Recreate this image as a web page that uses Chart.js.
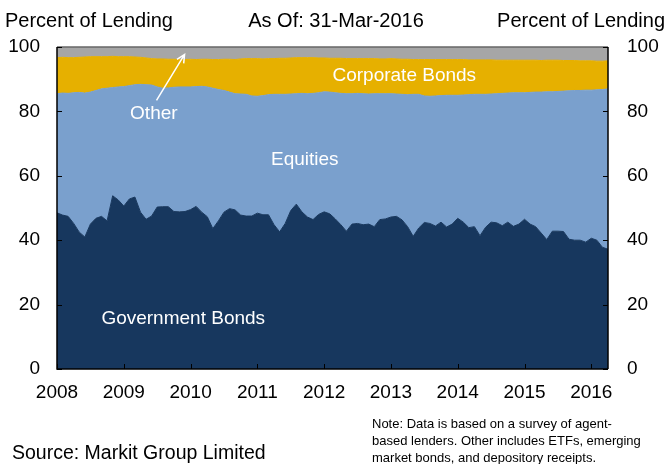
<!DOCTYPE html>
<html>
<head>
<meta charset="utf-8">
<script src="https://cdn.jsdelivr.net/npm/chart.js@4.4.1/dist/chart.umd.min.js"></script>
<style>
    html, body { margin: 0; padding: 0; background: #ffffff; }
    #wrap { width: 666px; height: 464px; position: relative; }
</style>
</head>
<body>
<div id="wrap"><canvas id="lending"></canvas></div>
<script>
// monthly observations, Jan 2008 .. Apr 2016 (last point = 31-Mar-2016)
const startYear = 2008;
const monthCount = 100;

const yearTicks = [2008, 2009, 2010, 2011, 2012, 2013, 2014, 2015, 2016];
const pctTicks = [0, 20, 40, 60, 80, 100];

// share of lending (%)
const govBonds = [
    48.5, 47.8, 47.4, 45.2, 42.5, 41.0, 45.0, 46.8, 47.4, 46.0, 53.8, 52.5,
    50.6, 52.8, 53.4, 48.7, 46.5, 47.5, 50.3, 50.4, 50.4, 48.9, 48.8, 48.9,
    49.5, 50.5, 48.7, 47.3, 43.6, 46.0, 48.7, 49.8, 49.4, 47.8, 47.5, 47.5,
    48.4, 47.9, 47.9, 44.8, 42.6, 45.2, 49.2, 51.2, 48.8, 47.2, 46.4, 48.0,
    48.8, 48.2, 46.6, 44.8, 42.8, 45.0, 45.2, 44.8, 45.0, 44.2, 46.4, 46.6,
    47.2, 47.4, 46.3, 44.2, 41.2, 43.8, 45.5, 45.2, 44.4, 45.6, 44.1, 45.0,
    46.8, 45.6, 43.9, 44.2, 41.4, 44.0, 45.6, 45.4, 44.5, 45.6, 44.3, 45.0,
    46.5, 45.0, 44.2, 42.2, 40.2, 42.8, 42.8, 42.7, 40.3, 40.0, 40.0, 39.4,
    40.6, 40.0, 37.8, 37.2
];
const equities = [
    37.0, 37.9, 38.2, 40.6, 43.4, 44.7, 41.0, 39.7, 39.6, 41.2, 33.6, 35.1,
    37.1, 35.2, 34.9, 39.7, 41.8, 40.7, 37.3, 36.8, 36.9, 38.6, 38.8, 38.7,
    38.1, 37.2, 39.1, 40.3, 43.6, 40.8, 37.8, 36.2, 36.1, 37.6, 37.8, 37.3,
    36.3, 37.0, 37.3, 40.5, 42.7, 40.1, 36.2, 34.3, 36.8, 38.3, 39.2, 37.8,
    37.3, 37.8, 39.2, 40.8, 42.7, 40.5, 40.4, 40.7, 40.4, 41.3, 39.1, 38.9,
    38.3, 38.0, 39.0, 41.0, 44.1, 41.5, 39.3, 39.5, 40.4, 39.3, 40.9, 40.0,
    38.2, 39.5, 41.3, 41.1, 43.9, 41.3, 39.8, 40.1, 41.1, 40.1, 41.5, 40.8,
    39.3, 40.9, 41.8, 43.8, 45.9, 43.3, 43.4, 43.6, 46.1, 46.5, 46.5, 47.2,
    46.0, 46.7, 49.0, 49.8
];
const corpBonds = [
    11.2, 11.1, 11.1, 10.9, 10.9, 11.2, 11.0, 10.5, 10.0, 9.8, 9.7, 9.4,
    9.3, 9.0, 8.6, 8.4, 8.3, 8.2, 8.7, 9.1, 8.9, 8.7, 8.5, 8.5,
    8.6, 8.4, 8.4, 8.6, 8.9, 9.3, 9.7, 10.2, 10.6, 10.9, 11.1, 11.6,
    11.7, 11.4, 11.2, 11.1, 11.2, 11.2, 11.2, 11.2, 11.1, 11.2, 11.1, 10.8,
    10.5, 10.5, 10.7, 10.9, 10.9, 10.9, 10.8, 10.9, 11.0, 10.9, 10.8, 10.8,
    10.9, 10.9, 10.9, 11.0, 10.8, 10.8, 11.3, 11.4, 11.3, 11.2, 11.1, 11.1,
    11.1, 11.0, 10.8, 10.7, 10.7, 10.7, 10.6, 10.4, 10.3, 10.2, 10.1, 10.1,
    10.1, 10.0, 9.9, 9.8, 9.8, 9.8, 9.7, 9.5, 9.4, 9.3, 9.2, 9.1,
    9.1, 8.9, 8.8, 8.7
];
const other = [
    3.3, 3.2, 3.3, 3.3, 3.2, 3.1, 3.0, 3.0, 3.0, 3.0, 2.9, 3.0,
    3.0, 3.0, 3.1, 3.2, 3.4, 3.6, 3.7, 3.7, 3.8, 3.8, 3.9, 3.9,
    3.8, 3.9, 3.8, 3.8, 3.9, 3.9, 3.8, 3.8, 3.9, 3.7, 3.6, 3.6,
    3.6, 3.7, 3.6, 3.6, 3.5, 3.5, 3.4, 3.3, 3.3, 3.3, 3.3, 3.4,
    3.4, 3.5, 3.5, 3.5, 3.6, 3.6, 3.6, 3.6, 3.6, 3.6, 3.7, 3.7,
    3.6, 3.7, 3.8, 3.8, 3.9, 3.9, 3.9, 3.9, 3.9, 3.9, 3.9, 3.9,
    3.9, 3.9, 4.0, 4.0, 4.0, 4.0, 4.0, 4.1, 4.1, 4.1, 4.1, 4.1,
    4.1, 4.1, 4.1, 4.2, 4.1, 4.1, 4.1, 4.2, 4.2, 4.2, 4.3, 4.3,
    4.3, 4.4, 4.4, 4.3
];

const months = [];
for (let k = 0; k < monthCount; k++) months.push(startYear + k / 12);

const FONT = '"Liberation Sans", Arial, sans-serif';

function series(label, values, color, fill) {
    return {
        label: label,
        data: values.map((v, i) => ({ x: months[i], y: v })),
        backgroundColor: color,
        borderColor: color,
        borderWidth: 1,
        pointRadius: 0,
        tension: 0,
        fill: fill
    };
}

// frame, inward tick marks and all the loose text
const decorations = {
    id: 'decorations',
    afterDatasetsDraw(chart) {
        const ctx = chart.ctx;
        const area = chart.chartArea;
        const x = chart.scales.x;
        const y = chart.scales.y;

        ctx.save();
        ctx.lineWidth = 1.5;
        ctx.strokeStyle = '#666666';
        ctx.beginPath();
        ctx.moveTo(area.left, area.top);
        ctx.lineTo(area.right, area.top);
        ctx.stroke();

        ctx.strokeStyle = '#000000';
        ctx.beginPath();
        ctx.moveTo(area.left, area.top);
        ctx.lineTo(area.left, area.bottom);
        ctx.lineTo(area.right, area.bottom);
        ctx.moveTo(area.right, area.top);
        ctx.lineTo(area.right, area.bottom);
        ctx.stroke();

        ctx.lineWidth = 1;
        ctx.beginPath();
        pctTicks.forEach(v => {
            const py = Math.round(y.getPixelForValue(v)) + 0.5;
            ctx.moveTo(area.left, py);
            ctx.lineTo(area.left + 5, py);
            ctx.moveTo(area.right, py);
            ctx.lineTo(area.right - 5, py);
        });
        yearTicks.forEach(v => {
            const px = Math.round(x.getPixelForValue(v)) + 0.5;
            ctx.moveTo(px, area.bottom);
            ctx.lineTo(px, area.bottom - 5);
        });
        ctx.stroke();

        // labels inside the areas
        ctx.fillStyle = '#ffffff';
        ctx.font = '19px ' + FONT;
        ctx.textAlign = 'center';
        ctx.textBaseline = 'middle';
        ctx.fillText('Corporate Bonds', x.getPixelForValue(2013.2), y.getPixelForValue(91.1));
        ctx.fillText('Equities', x.getPixelForValue(2011.71), y.getPixelForValue(65.0));
        ctx.fillText('Government Bonds', x.getPixelForValue(2009.89), y.getPixelForValue(15.6));
        ctx.fillText('Other', x.getPixelForValue(2009.45), y.getPixelForValue(79.2));

        // arrow from "Other" up to the grey band
        const tx = x.getPixelForValue(2009.49), ty = y.getPixelForValue(83.4);
        const hx = x.getPixelForValue(2009.91), hy = y.getPixelForValue(97.7);
        const ang = Math.atan2(hy - ty, hx - tx);
        ctx.strokeStyle = '#ffffff';
        ctx.lineWidth = 1.5;
        ctx.beginPath();
        ctx.moveTo(tx, ty);
        ctx.lineTo(hx, hy);
        ctx.moveTo(hx - 9 * Math.cos(ang - 0.45), hy - 9 * Math.sin(ang - 0.45));
        ctx.lineTo(hx, hy);
        ctx.lineTo(hx - 9 * Math.cos(ang + 0.45), hy - 9 * Math.sin(ang + 0.45));
        ctx.stroke();

        // header and footer text
        ctx.fillStyle = '#000000';
        ctx.textBaseline = 'alphabetic';
        ctx.font = '20px ' + FONT;
        ctx.textAlign = 'left';
        ctx.fillText('Percent of Lending', 5, 27);
        ctx.textAlign = 'center';
        ctx.fillText('As Of: 31-Mar-2016', 336, 27);
        ctx.textAlign = 'right';
        ctx.fillText('Percent of Lending', 665, 27);

        ctx.textAlign = 'left';
        ctx.font = '19.5px ' + FONT;
        ctx.fillText('Source: Markit Group Limited', 12, 459);

        ctx.font = '13px ' + FONT;
        ctx.fillText('Note: Data is based on a survey of agent-', 372, 428);
        ctx.fillText('based lenders. Other includes ETFs, emerging', 372, 445);
        ctx.fillText('market bonds, and depository receipts.', 372, 462);
        ctx.restore();
    }
};

const tickFont = { family: FONT, size: 19 };

new Chart(document.getElementById('lending').getContext('2d'), {
    type: 'line',
    data: {
        datasets: [
            series('Government Bonds', govBonds, '#17375E', 'origin'),
            series('Equities', equities, '#7AA0CD', '-1'),
            series('Corporate Bonds', corpBonds, '#E6B000', '-1'),
            series('Other', other, '#A6A6A6', '-1')
        ]
    },
    options: {
        responsive: true,
        maintainAspectRatio: false,
        animation: false,
        layout: { padding: { top: 47, left: 0, right: 0, bottom: 0 } },
        plugins: {
            legend: { display: false },
            tooltip: { enabled: false }
        },
        scales: {
            x: {
                type: 'linear',
                min: startYear,
                max: months[monthCount - 1],
                grid: { display: false },
                border: { display: false },
                afterBuildTicks: scale => {
                    scale.ticks = yearTicks.map(v => ({ value: v }));
                },
                afterFit: scale => { scale.height = 95; },
                ticks: {
                    color: '#000000',
                    font: tickFont,
                    padding: 4,
                    maxRotation: 0,
                    autoSkip: false,
                    callback: value => String(value)
                }
            },
            y: {
                stacked: true,
                min: 0,
                max: 100,
                position: 'left',
                grid: { display: false },
                border: { display: false },
                afterFit: scale => { scale.width = 57; },
                ticks: { stepSize: 20, color: '#000000', font: tickFont, padding: 9 }
            },
            y2: {
                min: 0,
                max: 100,
                position: 'right',
                grid: { display: false },
                border: { display: false },
                afterFit: scale => { scale.width = 58; },
                ticks: { stepSize: 20, color: '#000000', font: tickFont, padding: 11 }
            }
        }
    },
    plugins: [decorations]
});
</script>
</body>
</html>
